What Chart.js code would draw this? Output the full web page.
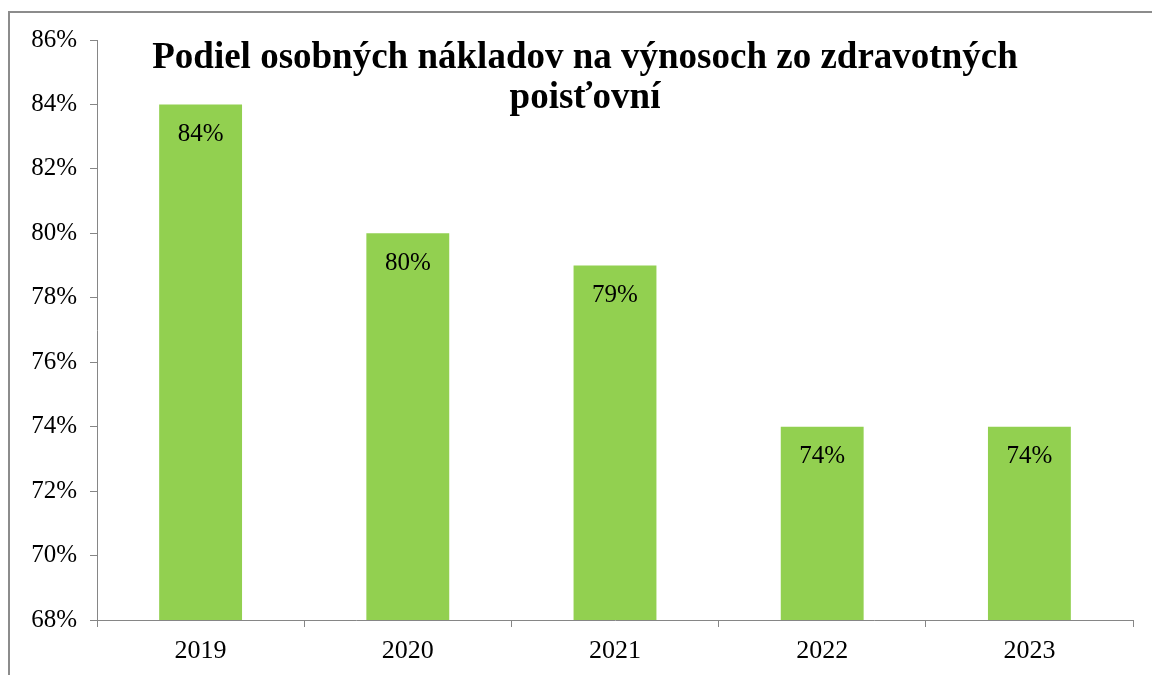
<!DOCTYPE html>
<html>
<head>
<meta charset="utf-8">
<script src="https://cdn.jsdelivr.net/npm/chart.js@4/dist/chart.umd.min.js"></script>
<style>
  html, body { margin: 0; padding: 0; background: #fff; }
  canvas { display: block; }
</style>
</head>
<body>
<canvas id="chart" width="1152" height="675"></canvas>
<script>
// údaje z grafu
const years = ["2019", "2020", "2021", "2022", "2023"];
const shares = [84, 80, 79, 74, 74];
const titleLines = ["Podiel osobných nákladov na výnosoch zo zdravotných", "poisťovní"];

const SERIF = "'Liberation Serif', 'Times New Roman', serif";

// rámik okolo grafu
const framePlugin = {
  id: "frame",
  beforeDraw(chart) {
    const ctx = chart.ctx;
    ctx.save();
    ctx.strokeStyle = "#8c8c8c";
    ctx.lineWidth = 2;
    ctx.strokeRect(9, 12, 1200, 700);
    ctx.restore();
  }
};

// nadpis vnútri plochy grafu
const titlePlugin = {
  id: "insideTitle",
  afterDraw(chart) {
    const ctx = chart.ctx;
    ctx.save();
    ctx.font = "bold 37px " + SERIF;
    ctx.fillStyle = "#000";
    ctx.textAlign = "center";
    ctx.textBaseline = "alphabetic";
    ctx.fillText(titleLines[0], 585, 68);
    ctx.fillText(titleLines[1], 585, 108);
    ctx.restore();
  }
};

// hodnoty v stĺpcoch
const valueLabels = {
  id: "valueLabels",
  afterDatasetsDraw(chart) {
    const ctx = chart.ctx;
    const meta = chart.getDatasetMeta(0);
    ctx.save();
    ctx.font = "25px " + SERIF;
    ctx.fillStyle = "#000";
    ctx.textAlign = "center";
    ctx.textBaseline = "middle";
    meta.data.forEach((bar, i) => {
      ctx.fillText(shares[i] + "%", bar.x, bar.y + 30);
    });
    ctx.restore();
  }
};

new Chart(document.getElementById("chart"), {
  type: "bar",
  data: {
    labels: years,
    datasets: [{
      data: shares,
      backgroundColor: "#92d050",
      borderWidth: 0,
      barPercentage: 0.4,
      categoryPercentage: 1
    }]
  },
  options: {
    responsive: false,
    animation: false,
    layout: { padding: { top: 40, right: 19, bottom: 0, left: 0 } },
    plugins: {
      legend: { display: false },
      tooltip: { enabled: false },
      title: { display: false }
    },
    scales: {
      x: {
        grid: { drawOnChartArea: false, drawTicks: true, tickLength: 7, color: "#868686" },
        border: { color: "#868686", width: 1 },
        ticks: { font: { family: SERIF, size: 26 }, color: "#000", padding: 9 },
        afterFit(scale) { scale.height = 55; }
      },
      y: {
        min: 68,
        max: 86,
        grid: { drawOnChartArea: false, drawTicks: true, tickLength: 7, color: "#868686" },
        border: { color: "#868686", width: 1 },
        ticks: {
          stepSize: 2,
          font: { family: SERIF, size: 25 },
          color: "#000",
          padding: 13,
          callback: v => v + "%"
        },
        afterFit(scale) { scale.width = 97; }
      }
    }
  },
  plugins: [framePlugin, titlePlugin, valueLabels]
});
</script>
</body>
</html>
